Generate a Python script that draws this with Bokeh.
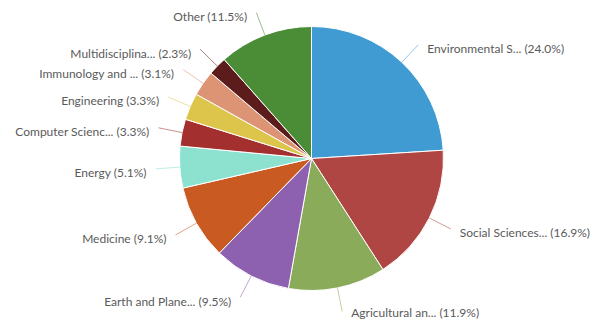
import math
from bokeh.plotting import figure
from bokeh.models import Range1d, ColumnDataSource
from bokeh.core.properties import value
from bokeh.embed import file_html
from bokeh.resources import INLINE

labels = ["Environmental S...", "Social Sciences...", "Agricultural an...", "Earth and Plane...",
          "Medicine", "Energy", "Computer Scienc...", "Engineering", "Immunology and ...",
          "Multidisciplina...", "Other"]
shares = [24.0, 16.9, 11.9, 9.5, 9.1, 5.1, 3.3, 3.3, 3.1, 2.3, 11.5]
colors = ["#3f9bd1", "#b04644", "#8aac5a", "#8e60b0", "#c95a22", "#8de2cf",
          "#a3302f", "#ddc44a", "#dd9474", "#5c1c1c", "#4a8d36"]

W, H = 594, 320
cx, cy, R = 311, H - 158, 132

p = figure(width=W, height=H, output_backend="svg", toolbar_location=None,
           x_range=Range1d(0, W), y_range=Range1d(0, H), min_border=0)
p.axis.visible = False
p.grid.visible = False
p.outline_line_color = None

total = sum(shares)
starts, ends, mids = [], [], []
cum = 0.0
for s in shares:
    a0 = math.pi / 2 - 2 * math.pi * cum / total
    cum += s
    a1 = math.pi / 2 - 2 * math.pi * cum / total
    starts.append(a0)
    ends.append(a1)
    mids.append((a0 + a1) / 2)

src = ColumnDataSource(dict(start=starts, end=ends, color=colors))
p.wedge(x=cx, y=cy, radius=R, start_angle="start", end_angle="end", direction="clock",
        fill_color="color", line_color="white", line_width=1, source=src)

x0s, y0s, x1s, y1s, tx, ty, txt, align = [], [], [], [], [], [], [], []
for lab, s, m in zip(labels, shares, mids):
    dx, dy = math.cos(m), math.sin(m)
    x0s.append(cx + R * dx); y0s.append(cy + R * dy)
    ex, ey = cx + (R + 24) * dx, cy + (R + 24) * dy
    x1s.append(ex); y1s.append(ey)
    right = dx >= 0
    tx.append(ex + (9 if right else -9))
    ty.append(max(ey - 4, 8.5))
    txt.append(f"{lab} ({s:.1f}%)")
    align.append("left" if right else "right")

p.segment(x0=x0s, y0=y0s, x1=x1s, y1=y1s, line_color=colors, line_alpha=0.55, line_width=1)
tsrc = ColumnDataSource(dict(x=tx, y=ty, t=txt, a=align))
p.text(x="x", y="y", text="t", text_align="a", text_baseline="middle",
       text_font=value("Lato"), text_font_size="12px", text_color="#5a5a5a", source=tsrc)

open("out.html", "w").write(file_html(p, INLINE))
